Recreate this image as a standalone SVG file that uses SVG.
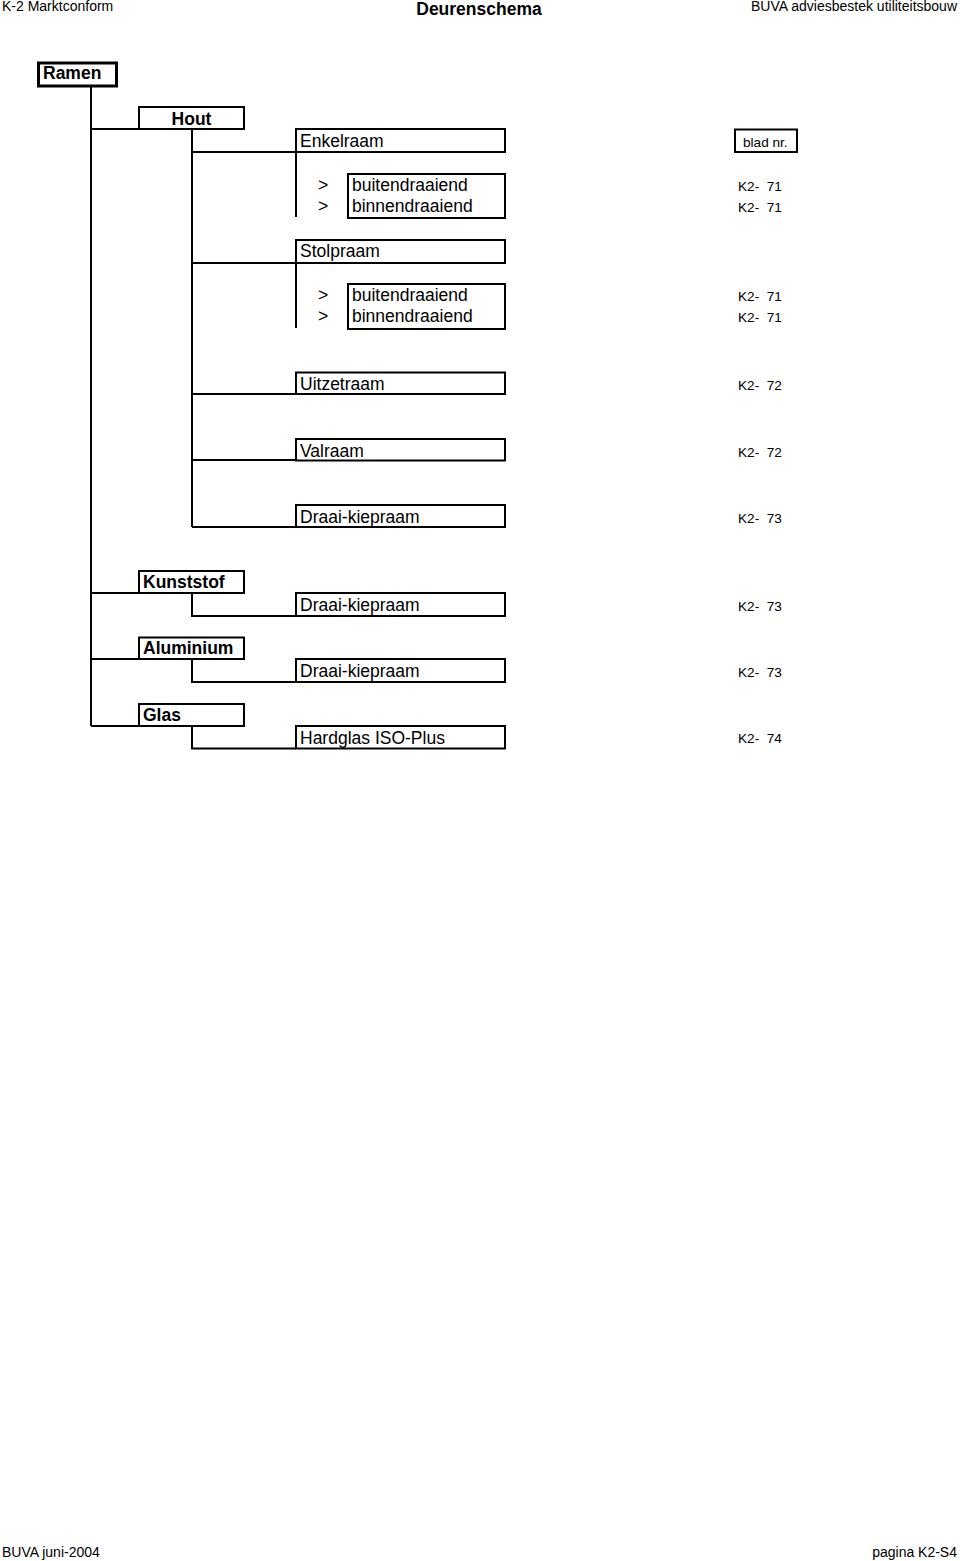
<svg xmlns="http://www.w3.org/2000/svg" width="960" height="1561" viewBox="0 0 960 1561">
<style>
text{font-family:"Liberation Sans",Arial,sans-serif;fill:#000}
.h{font-size:14px}
.t{font-size:17.5px}
.b{font-size:17.5px;font-weight:bold}
.k{font-size:13.6px;white-space:pre}
rect{fill:#fff;stroke:#000;stroke-width:2}
.thick{stroke-width:3}
#connectors path{fill:none;stroke:#000;stroke-width:2}
</style>
<rect x="0" y="0" width="960" height="1561" style="stroke:none;fill:#fff"/>
<g id="header">
<text class="h" x="2" y="11">K-2 Marktconform</text>
<text x="479" y="15" text-anchor="middle" style="font-size:17.5px;font-weight:bold">Deurenschema</text>
<text class="h" x="957" y="11" text-anchor="end">BUVA adviesbestek utiliteitsbouw</text>
</g>
<g id="connectors">
<path d="M91 86V726M91 129H139M91 593H139M91 659H139M91 726H139"/>
<path d="M192 129V527M192 152H296M192 263H296M192 394H296M192 460H296M192 527H296"/>
<path d="M296 152V217M296 263V328"/>
<path d="M192 593V616H296M192 659V682H296M192 726V748.5H296"/>
</g>
<g id="ramen"><rect class="thick" x="38.5" y="63" width="78" height="23"/><text class="b" x="43" y="79">Ramen</text></g>
<g id="hout"><rect x="139" y="107" width="105" height="22"/><text class="b" x="191.5" y="125" text-anchor="middle">Hout</text></g>
<g id="enkelraam"><rect x="296" y="129" width="209" height="23"/><text class="t" x="300" y="147">Enkelraam</text></g>
<g id="enkelraam-sub"><rect x="348" y="174" width="157" height="44"/>
<text class="t" x="318" y="191">&gt;</text><text class="t" x="352" y="191">buitendraaiend</text>
<text class="t" x="318" y="212">&gt;</text><text class="t" x="352" y="212">binnendraaiend</text></g>
<g id="stolpraam"><rect x="296" y="240" width="209" height="23"/><text class="t" x="300" y="257">Stolpraam</text></g>
<g id="stolpraam-sub"><rect x="348" y="284" width="157" height="45"/>
<text class="t" x="318" y="301">&gt;</text><text class="t" x="352" y="301">buitendraaiend</text>
<text class="t" x="318" y="322">&gt;</text><text class="t" x="352" y="322">binnendraaiend</text></g>
<g id="uitzetraam"><rect x="296" y="372.5" width="209" height="21.5"/><text class="t" x="300" y="390">Uitzetraam</text></g>
<g id="valraam"><rect x="296" y="439" width="209" height="21.5"/><text class="t" x="300" y="456.5">Valraam</text></g>
<g id="draai-hout"><rect x="296" y="505" width="209" height="22"/><text class="t" x="300" y="523">Draai-kiepraam</text></g>
<g id="kunststof"><rect x="139" y="571" width="105" height="22"/><text class="b" x="143" y="588">Kunststof</text></g>
<g id="draai-kunststof"><rect x="296" y="593" width="209" height="23"/><text class="t" x="300" y="611">Draai-kiepraam</text></g>
<g id="aluminium"><rect x="139" y="637.5" width="105" height="21.5"/><text class="b" x="143" y="654">Aluminium</text></g>
<g id="draai-aluminium"><rect x="296" y="659" width="209" height="23"/><text class="t" x="300" y="677">Draai-kiepraam</text></g>
<g id="glas"><rect x="139" y="704" width="105" height="22"/><text class="b" x="143" y="721">Glas</text></g>
<g id="hardglas"><rect x="296" y="726" width="209" height="22.5"/><text class="t" x="300" y="743.5">Hardglas ISO-Plus</text></g>
<g id="blad"><rect x="735" y="129.5" width="62" height="22.5"/><text class="k" x="743" y="147">blad nr.</text></g>
<g id="refs">
<text class="k" x="738" y="191">K2-  71</text>
<text class="k" x="738" y="212">K2-  71</text>
<text class="k" x="738" y="301">K2-  71</text>
<text class="k" x="738" y="322">K2-  71</text>
<text class="k" x="738" y="390">K2-  72</text>
<text class="k" x="738" y="456.5">K2-  72</text>
<text class="k" x="738" y="522.5">K2-  73</text>
<text class="k" x="738" y="611">K2-  73</text>
<text class="k" x="738" y="677">K2-  73</text>
<text class="k" x="738" y="743">K2-  74</text>
</g>
<g id="footer">
<text class="h" x="2" y="1557">BUVA juni-2004</text>
<text class="h" x="957" y="1557" text-anchor="end">pagina K2-S4</text>
</g>
</svg>
